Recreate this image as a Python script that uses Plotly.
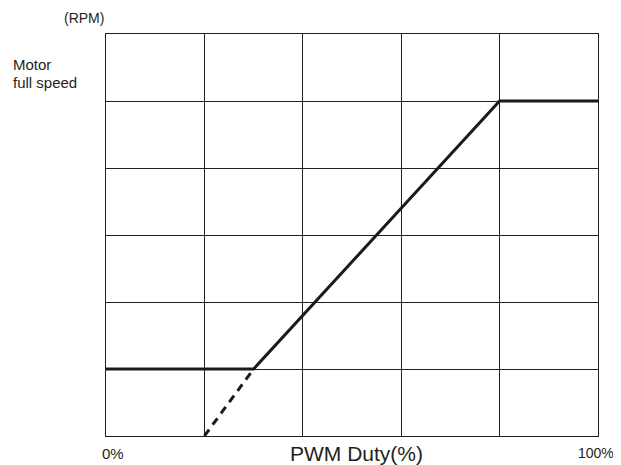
import plotly.graph_objects as go

# Data (PWM duty % vs speed level in grid units)
solid_x = [0, 30, 80, 100]
solid_y = [1, 1, 5, 5]
dash_x = [20, 30]
dash_y = [0, 1]
x_ticks = [0, 20, 40, 60, 80, 100]
y_ticks = [0, 1, 2, 3, 4, 5, 6]

fig = go.Figure()
fig.add_trace(go.Scatter(x=dash_x, y=dash_y, mode="lines",
                         line=dict(color="#1a1a1a", width=3, dash="8px,6px"),
                         hoverinfo="skip"))
fig.add_trace(go.Scatter(x=solid_x, y=solid_y, mode="lines",
                         line=dict(color="#1a1a1a", width=3),
                         hoverinfo="skip"))

# page offset (body margin) compensation
OFF = 8
W, H = 621 - OFF, 465 - OFF
L, R, T, B = 106 - OFF, 598 - OFF, 34 - OFF, 436 - OFF

font = "Liberation Sans, Arial, sans-serif"
fig.update_layout(
    width=W, height=H,
    margin=dict(l=L, r=W - R, t=T, b=H - B),
    paper_bgcolor="white", plot_bgcolor="white",
    showlegend=False,
    font=dict(family=font, color="#231f20"),
    xaxis=dict(range=[0, 100], tickvals=x_ticks, showticklabels=False,
               showgrid=True, gridcolor="#231f20", gridwidth=1,
               zeroline=False, showline=True, linecolor="#231f20",
               linewidth=1, mirror=True, ticks=""),
    yaxis=dict(range=[0, 6], tickvals=y_ticks, showticklabels=False,
               showgrid=True, gridcolor="#231f20", gridwidth=1,
               zeroline=False, showline=True, linecolor="#231f20",
               linewidth=1, mirror=True, ticks=""),
)

def px(xp):
    return (xp - OFF - L) / (R - L)
def py(yp):
    return (B - (yp - OFF)) / (B - T)

def ann(text, x, y, size, xanchor="left", yanchor="middle"):
    fig.add_annotation(text=text, x=px(x), y=py(y), xref="paper", yref="paper",
                       showarrow=False, xanchor=xanchor, yanchor=yanchor,
                       font=dict(size=size, family=font, color="#231f20"),
                       align="left")

ann("(RPM)", 62, 18.5, 14)
ann("Motor", 11, 64, 15)
ann("full speed", 11, 83, 15)
ann("0%", 100, 453, 15)
ann("PWM Duty(%)", 356, 453, 21, xanchor="center")
ann("100%", 616, 453, 14, xanchor="right")

fig.write_html("out.html")
